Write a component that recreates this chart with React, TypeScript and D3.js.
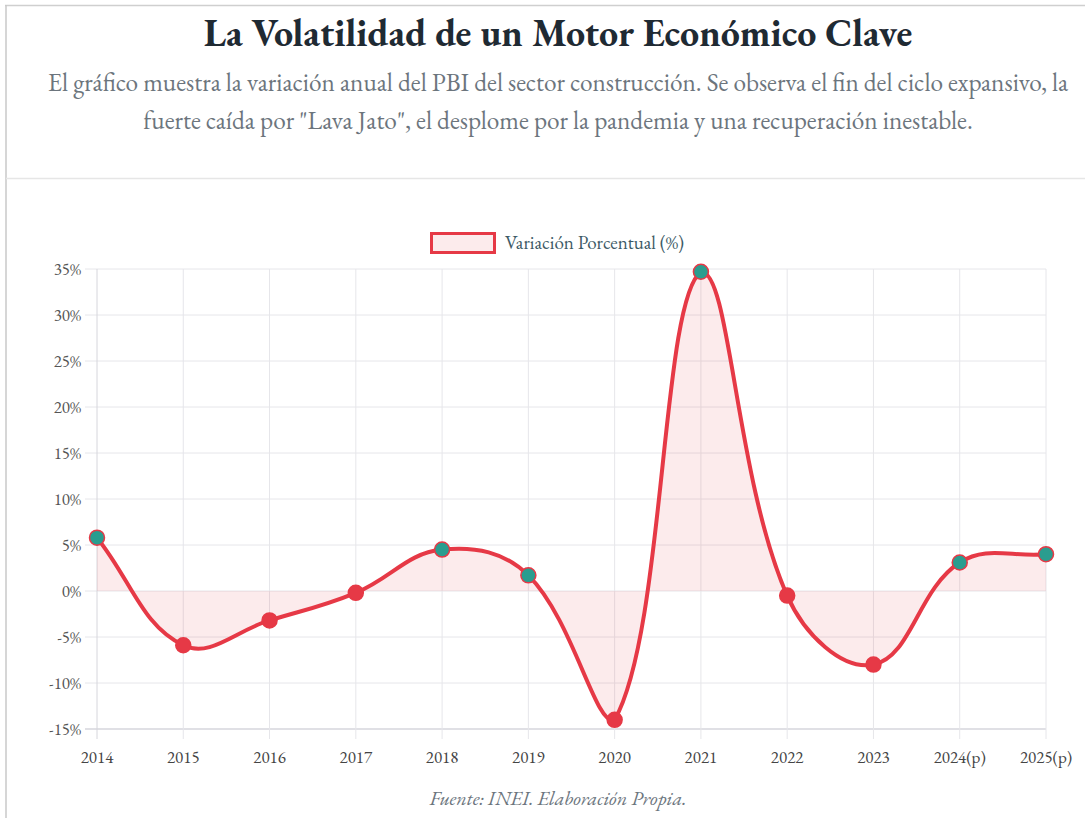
import * as d3 from "d3";
import { useEffect, useRef } from "react";

const years = ["2014", "2015", "2016", "2017", "2018", "2019", "2020", "2021", "2022", "2023", "2024(p)", "2025(p)"];
const variation = [5.8, -5.9, -3.2, -0.2, 4.5, 1.7, -14.0, 34.7, -0.5, -8.0, 3.1, 4.0];
const yTicks = [-15, -10, -5, 0, 5, 10, 15, 20, 25, 30, 35];

const TITLE = "La Volatilidad de un Motor Económico Clave";
const SUBTITLE_1 = "El gráfico muestra la variación anual del PBI del sector construcción. Se observa el fin del ciclo expansivo, la";
const SUBTITLE_2 = "fuerte caída por \"Lava Jato\", el desplome por la pandemia y una recuperación inestable.";
const LEGEND = "Variación Porcentual (%)";
const SOURCE = "Fuente: INEI. Elaboración Propia.";

const RED = "#e63946";
const TEAL = "#2a9d8f";
const FONT = "'EB Garamond', 'Liberation Serif', serif";

type Pt = { x: number; y: number };

// same spline as chart.js (tension 0.4, control points capped to the chart area)
const splinePath = (pts: Pt[], t: number, top: number, bottom: number, left: number, right: number) => {
  const cps = pts.map((p, i) => {
    const prev = pts[Math.max(i - 1, 0)];
    const next = pts[Math.min(i + 1, pts.length - 1)];
    const d01 = Math.hypot(p.x - prev.x, p.y - prev.y);
    const d12 = Math.hypot(next.x - p.x, next.y - p.y);
    let s01 = d01 / (d01 + d12);
    let s12 = d12 / (d01 + d12);
    if (isNaN(s01)) s01 = 0;
    if (isNaN(s12)) s12 = 0;
    const fa = t * s01,
      fb = t * s12;
    const cap = (q: Pt) => ({
      x: Math.max(left, Math.min(right, q.x)),
      y: Math.max(top, Math.min(bottom, q.y)),
    });
    return {
      prev: cap({ x: p.x - fa * (next.x - prev.x), y: p.y - fa * (next.y - prev.y) }),
      next: cap({ x: p.x + fb * (next.x - prev.x), y: p.y + fb * (next.y - prev.y) }),
    };
  });
  const path = d3.path();
  path.moveTo(pts[0].x, pts[0].y);
  for (let i = 1; i < pts.length; i++) {
    path.bezierCurveTo(cps[i - 1].next.x, cps[i - 1].next.y, cps[i].prev.x, cps[i].prev.y, pts[i].x, pts[i].y);
  }
  return path.toString();
};

const App = () => {
  const ref = useRef<SVGSVGElement>(null);

  useEffect(() => {
    const svg = d3.select(ref.current);
    svg.selectAll("*").remove();

    const W = 1085,
      H = 818;
    const plot = { left: 97, right: 1046, top: 269, bottom: 729 };
    const cx = 558;

    // card borders
    svg.append("rect").attr("width", W).attr("height", H).attr("fill", "#fff");
    svg.append("line").attr("x1", 5).attr("x2", W).attr("y1", 5.5).attr("y2", 5.5).attr("stroke", "#cfcfcf").attr("stroke-width", 1.5);
    svg.append("line").attr("x1", 6).attr("x2", 6).attr("y1", 5).attr("y2", H).attr("stroke", "#c8c8c8").attr("stroke-width", 1.5);
    svg.append("line").attr("x1", 6).attr("x2", W).attr("y1", 178.5).attr("y2", 178.5).attr("stroke", "#e6e6e6").attr("stroke-width", 1.5);

    // header
    svg
      .append("text")
      .attr("x", cx)
      .attr("y", 46)
      .attr("text-anchor", "middle")
      .attr("font-family", FONT)
      .attr("font-weight", "bold")
      .attr("font-size", 38)
      .attr("fill", "#1f2a33")
      .text(TITLE);
    [SUBTITLE_1, SUBTITLE_2].forEach((s, i) =>
      svg
        .append("text")
        .attr("x", cx)
        .attr("y", 91 + i * 38)
        .attr("text-anchor", "middle")
        .attr("font-family", FONT)
        .attr("font-size", 25.3)
        .attr("fill", "#6c757d")
        .text(s)
    );

    const x = d3.scalePoint().domain(years).range([plot.left, plot.right]);
    const y = d3.scaleLinear().domain([-15, 35]).range([plot.bottom, plot.top]);

    // grid
    svg
      .append("g")
      .selectAll("line")
      .data(yTicks)
      .enter()
      .append("line")
      .attr("x1", plot.left - 12)
      .attr("x2", plot.right)
      .attr("y1", (d) => y(d))
      .attr("y2", (d) => y(d))
      .attr("stroke", (d) => (d === -15 ? "#d6d6dc" : "#e6e6ea"))
      .attr("stroke-width", (d) => (d === -15 ? 1.5 : 1));
    svg
      .append("g")
      .selectAll("line")
      .data(years)
      .enter()
      .append("line")
      .attr("x1", (d) => x(d)!)
      .attr("x2", (d) => x(d)!)
      .attr("y1", plot.top)
      .attr("y2", plot.bottom + 10)
      .attr("stroke", (d, i) => (i === 0 ? "#d6d6dc" : "#e6e6ea"))
      .attr("stroke-width", 1);

    // tick labels
    svg
      .append("g")
      .selectAll("text")
      .data(yTicks)
      .enter()
      .append("text")
      .attr("x", 81)
      .attr("y", (d) => y(d) + 5.5)
      .attr("text-anchor", "end")
      .attr("font-family", FONT)
      .attr("font-size", 17)
      .attr("fill", "#555")
      .text((d) => `${d}%`);
    svg
      .append("g")
      .selectAll("text")
      .data(years)
      .enter()
      .append("text")
      .attr("x", (d) => x(d)!)
      .attr("y", 763)
      .attr("text-anchor", "middle")
      .attr("font-family", FONT)
      .attr("font-size", 17)
      .attr("fill", "#444")
      .text((d) => d);

    // area + line
    const pts = years.map((yr, i) => ({ x: x(yr)!, y: y(variation[i]) }));
    const linePath = splinePath(pts, 0.4, plot.top, plot.bottom, plot.left, plot.right);
    const y0 = y(0);
    svg
      .append("path")
      .attr("d", `${linePath}L${pts[pts.length - 1].x},${y0}L${pts[0].x},${y0}Z`)
      .attr("fill", "rgba(230, 57, 70, 0.1)");
    svg
      .append("path")
      .attr("d", linePath)
      .attr("fill", "none")
      .attr("stroke", RED)
      .attr("stroke-width", 4);

    svg
      .append("g")
      .selectAll("circle")
      .data(variation)
      .enter()
      .append("circle")
      .attr("cx", (d, i) => x(years[i])!)
      .attr("cy", (d) => y(d))
      .attr("r", 7.5)
      .attr("fill", (d) => (d >= 0 ? TEAL : RED))
      .attr("stroke", RED)
      .attr("stroke-width", 1.5);

    // legend
    svg
      .append("rect")
      .attr("x", 431.5)
      .attr("y", 233.5)
      .attr("width", 63)
      .attr("height", 19)
      .attr("fill", "rgba(230, 57, 70, 0.1)")
      .attr("stroke", RED)
      .attr("stroke-width", 3);
    svg
      .append("text")
      .attr("x", 505)
      .attr("y", 249)
      .attr("font-family", FONT)
      .attr("font-size", 19)
      .attr("fill", "#3d5a66")
      .text(LEGEND);

    // source
    svg
      .append("text")
      .attr("x", cx)
      .attr("y", 805)
      .attr("text-anchor", "middle")
      .attr("font-family", FONT)
      .attr("font-style", "italic")
      .attr("font-size", 20)
      .attr("fill", "#6c757d")
      .text(SOURCE);
  }, []);

  return (
    <svg
      ref={ref}
      width={1085}
      height={818}
      style={{ position: "absolute", left: 0, top: 0, display: "block" }}
    />
  );
};

export default App;
